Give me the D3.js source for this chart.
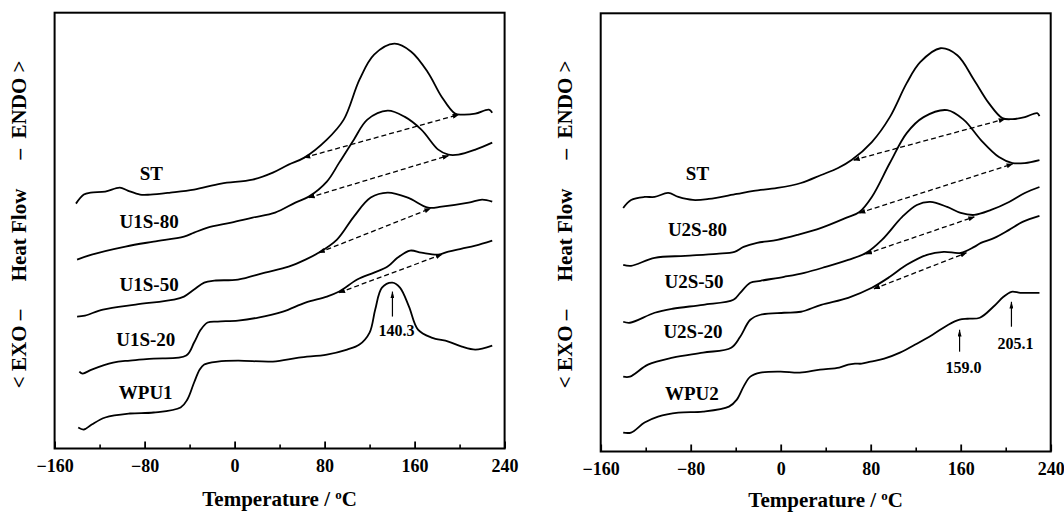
<!DOCTYPE html>
<html>
<head>
<meta charset="utf-8">
<script src="https://cdn.jsdelivr.net/npm/d3@7"></script>
<style>
  html, body { margin: 0; padding: 0; background: #fff; }
  svg { display: block; }
  text { font-family: "Liberation Serif", "Times New Roman", serif; font-weight: bold; fill: #000; }
</style>
</head>
<body>
<svg id="chart" width="1064" height="513"></svg>
<script>
// Temperature axis
const xDomain = [-160, 240];
const xMajorTicks = [-160, -80, 0, 80, 160, 240];
const xMinorTicks = [-120, -40, 40, 120, 200];

// Heat flow (arbitrary units) range of each panel
const leftYDomain = [0, 43.6];
const rightYDomain = [0, 43.9];

// DSC traces, [temperature °C, heat flow a.u.] — left panel (U1S series)
const stLeft = [[-141,24.5],[-134,25.4],[-128,25.6],[-115,25.7],[-102,26.1],[-95,25.8],[-84,25.4],[-75,25.4],[-57,25.6],[-36,25.9],[-12,26.5],[16,26.9],[34,27.6],[48,28.4],[62,29.1],[82,30.9],[97,32.9],[111,36.9],[124,39.4],[142,40.5],[157,39.7],[172,37.6],[184,35.2],[196,33.5],[203,33.4],[214,33.5],[226,33.9],[229,33.6]];
const u1s80 = [[-140,18.9],[-127,19.4],[-97,20.2],[-72,20.7],[-45,21.2],[-36,21.6],[-24,22.1],[-3,22.6],[16,23.1],[36,23.6],[54,24.6],[66,25.2],[82,26.7],[93,28.6],[106,30.9],[118,32.9],[136,33.8],[151,33.2],[166,31.9],[181,29.9],[190,29.4],[199,29.4],[214,29.9],[229,30.6]];
const u1s50 = [[-140,13.2],[-133,13.3],[-117,13.9],[-88,14.4],[-54,14.9],[-45,15.2],[-36,15.9],[-27,16.6],[-18,16.8],[3,16.9],[27,17.6],[48,18.2],[63,18.9],[75,19.6],[91,20.9],[106,23.2],[121,25.1],[136,25.6],[154,25.1],[172,24.1],[184,24.2],[208,24.6],[220,24.9],[229,24.7]];
const u1s20 = [[-138,7.7],[-135,7.5],[-127,7.9],[-108,8.6],[-93,8.8],[-72,9.0],[-43,9.3],[-36,10.6],[-30,11.9],[-24,12.6],[-15,12.7],[3,12.8],[21,13.1],[43,13.7],[63,14.6],[82,15.2],[93,15.7],[109,16.9],[124,17.6],[136,18.2],[145,19.1],[156,19.8],[166,19.6],[181,19.4],[190,19.7],[202,20.0],[214,20.3],[229,20.8]];
const wpu1 = [[-139,2.1],[-134,1.9],[-127,2.4],[-115,3.1],[-93,3.5],[-72,3.6],[-48,4.1],[-42,4.9],[-36,6.6],[-31,7.9],[-27,8.4],[-15,8.7],[3,8.8],[34,8.7],[57,9.1],[82,9.4],[100,9.9],[111,10.4],[120,11.6],[125,13.9],[131,16.1],[140.3,16.6],[147,16.1],[155,14.2],[163,11.9],[175,11.1],[190,10.7],[202,10.2],[214,9.9],[229,10.3]];

// Right panel (U2S series)
const stRight = [[-140,24.4],[-133,25.2],[-121,25.5],[-112,25.5],[-100,25.9],[-91,25.5],[-78,25.2],[-64,25.3],[-39,25.8],[-24,26.1],[-3,26.4],[18,26.9],[36,27.7],[51,28.4],[63,29.2],[81,31.0],[97,33.5],[112,36.9],[124,39.0],[142,40.4],[157,39.7],[172,37.2],[185,34.9],[197,33.4],[206,33.3],[217,33.5],[228,33.9],[230,33.6]];
const u2s80 = [[-140,18.7],[-133,18.6],[-112,19.4],[-85,19.6],[-57,19.8],[-41,20.0],[-33,20.5],[-21,20.9],[-3,21.2],[15,21.7],[36,22.4],[58,23.4],[70,24.0],[81,25.5],[97,28.9],[112,31.9],[127,33.5],[148,34.2],[163,33.2],[178,31.2],[194,29.5],[206,28.9],[217,28.9],[230,29.2]];
const u2s50 = [[-140,13.0],[-134,12.9],[-112,13.9],[-96,14.3],[-69,14.7],[-42,15.2],[-36,15.9],[-27,16.9],[-18,17.1],[3,17.5],[21,17.9],[40,18.5],[60,19.2],[76,19.9],[90,21.2],[108,23.5],[121,24.7],[133,25.0],[148,24.5],[160,23.9],[172,23.7],[187,24.2],[203,25.0],[217,25.9],[230,26.5]];
const u2s20 = [[-140,7.5],[-134,7.5],[-118,8.7],[-96,9.4],[-69,9.9],[-44,10.4],[-36,11.5],[-27,13.2],[-18,13.7],[3,13.9],[18,14.0],[36,14.7],[60,15.4],[81,16.4],[97,17.5],[112,18.7],[130,19.7],[145,20.0],[160,19.9],[172,20.5],[178,20.9],[190,21.4],[203,22.2],[215,23.0],[230,23.6]];
const wpu2 = [[-140,1.9],[-133,1.9],[-121,2.9],[-109,3.5],[-91,3.9],[-69,4.0],[-46,4.5],[-39,5.2],[-33,6.5],[-27,7.5],[-18,7.9],[0,8.0],[17,7.9],[35,8.2],[52,8.4],[60,8.7],[66,8.8],[72,8.8],[80,9.0],[92,9.3],[106,9.9],[121,10.8],[135,11.7],[149,12.7],[159,13.2],[166,13.3],[177,13.4],[189,14.5],[198,15.5],[205.1,16.0],[213,15.9],[222,15.9],[230,15.9]];

// Series names and label anchors [temperature, heat flow]
const leftNames = ["ST", "U1S-80", "U1S-50", "U1S-20", "WPU1"];
const leftLabelAt = [[-74,26.9],[-76,22.1],[-76,15.8],[-79,10.3],[-79,5.0]];
const rightNames = ["ST", "U2S-80", "U2S-50", "U2S-20", "WPU2"];
const rightLabelAt = [[-74,27.2],[-74,21.6],[-77,16.4],[-78,11.4],[-79,5.2]];

// Integration baselines [T start, value start, T end, value end]
const leftBaselines = [[62,29.1,199,33.4],[66,25.1,190,29.3],[75,19.6,174,24.0],[93,15.6,184,19.4]];
const rightBaselines = [[65,29.2,199,33.3],[70,23.9,206,28.8],[76,19.8,172,23.5],[83,16.3,165,19.9]];

// Peak annotations [temperature, arrow foot, arrow tip, label baseline]
const leftPeaks = [[140.3,13.2,15.7,11.3]];
const rightPeaks = [[159.0,10.0,12.2,7.9],[205.1,12.5,15.0,10.3]];

const svg = d3.select("#chart");

const defs = svg.append("defs");
defs.append("marker")
  .attr("id", "headSmall").attr("viewBox", "0 0 8 6")
  .attr("refX", 7).attr("refY", 3)
  .attr("markerWidth", 7).attr("markerHeight", 5)
  .attr("markerUnits", "userSpaceOnUse")
  .attr("orient", "auto-start-reverse")
  .append("path").attr("d", "M0,0 L8,3 L0,6 Z").attr("fill", "#000");
defs.append("marker")
  .attr("id", "headUp").attr("viewBox", "0 0 6 10")
  .attr("refX", 3).attr("refY", 0)
  .attr("markerWidth", 4).attr("markerHeight", 7)
  .attr("markerUnits", "userSpaceOnUse")
  .attr("orient", "0")
  .append("path").attr("d", "M0,10 L3,0 L6,10 Z").attr("fill", "#000");

function drawPanel(frame, yDomain, series, names, labelAt, baselines, peaks, yTitleX, titleY) {
  const x = d3.scaleLinear().domain(xDomain).range([frame.x0, frame.x1]);
  const y = d3.scaleLinear().domain(yDomain).range([frame.y1, frame.y0]);
  const g = svg.append("g");

  const line = d3.line()
    .x(d => x(d[0])).y(d => y(d[1]))
    .curve(d3.curveCatmullRom.alpha(0.5));

  g.selectAll("path.trace").data(series).enter().append("path")
    .attr("class", "trace")
    .attr("d", line)
    .attr("fill", "none").attr("stroke", "#000")
    .attr("stroke-width", 1.8).attr("stroke-linejoin", "round");

  g.selectAll("line.base").data(baselines).enter().append("line")
    .attr("class", "base")
    .attr("x1", d => x(d[0])).attr("y1", d => y(d[1]))
    .attr("x2", d => x(d[2])).attr("y2", d => y(d[3]))
    .attr("stroke", "#000").attr("stroke-width", 1.3)
    .attr("stroke-dasharray", "5,3")
    .attr("marker-start", "url(#headSmall)")
    .attr("marker-end", "url(#headSmall)");

  g.selectAll("text.name").data(names).enter().append("text")
    .attr("class", "name")
    .attr("x", (d, i) => x(labelAt[i][0]))
    .attr("y", (d, i) => y(labelAt[i][1]))
    .attr("text-anchor", "middle")
    .style("font-size", "19px")
    .text(d => d);

  peaks.forEach(p => {
    g.append("line")
      .attr("x1", x(p[0])).attr("x2", x(p[0]))
      .attr("y1", y(p[1])).attr("y2", y(p[2]))
      .attr("stroke", "#000").attr("stroke-width", 1.2)
      .attr("marker-end", "url(#headUp)");
    g.append("text")
      .attr("x", x(p[0]) + 4).attr("y", y(p[3]))
      .attr("text-anchor", "middle")
      .style("font-size", "16px")
      .text(p[0].toFixed(1));
  });

  // frame
  g.append("rect")
    .attr("x", frame.x0).attr("y", frame.y0)
    .attr("width", frame.x1 - frame.x0).attr("height", frame.y1 - frame.y0)
    .attr("fill", "none").attr("stroke", "#000").attr("stroke-width", 2);

  // temperature axis: major ticks with labels, minor ticks without
  const axMajor = g.append("g").attr("transform", `translate(0,${frame.y1})`)
    .call(d3.axisBottom(x).tickValues(xMajorTicks).tickSize(-7).tickPadding(11).tickFormat(d3.format("d")));
  axMajor.select(".domain").remove();
  axMajor.selectAll(".tick line").attr("stroke-width", 1.8);
  axMajor.selectAll(".tick text")
    .style("font-family", "'Liberation Serif', 'Times New Roman', serif")
    .style("font-weight", "bold").style("font-size", "18px");

  const axMinor = g.append("g").attr("transform", `translate(0,${frame.y1})`)
    .call(d3.axisBottom(x).tickValues(xMinorTicks).tickSize(-4).tickFormat(""));
  axMinor.select(".domain").remove();
  axMinor.selectAll(".tick line").attr("stroke-width", 1.6);

  // axis titles
  const t = g.append("text")
    .attr("x", (frame.x0 + frame.x1) / 2).attr("y", titleY)
    .attr("text-anchor", "middle").style("font-size", "21px");
  t.append("tspan").text("Temperature / ");
  t.append("tspan").attr("dy", -7).style("font-size", "13px").text("o");
  t.append("tspan").attr("dy", 7).text("C");

  const yParts = [["< EXO \u2013", 349], ["Heat Flow", 235], ["\u2013  ENDO >", 110]];
  yParts.forEach(([s, cy]) => {
    g.append("text")
      .attr("transform", `translate(${yTitleX},${cy}) rotate(-90)`)
      .attr("text-anchor", "middle").attr("dy", "0.35em")
      .attr("xml:space", "preserve")
      .style("font-size", "21px")
      .text(s);
  });
}

drawPanel({x0: 54.6, x1: 504.6, y0: 12.7, y1: 448.5}, leftYDomain,
  [stLeft, u1s80, u1s50, u1s20, wpu1], leftNames, leftLabelAt, leftBaselines, leftPeaks, 19, 506);
drawPanel({x0: 600.7, x1: 1050.7, y0: 13.3, y1: 451.5}, rightYDomain,
  [stRight, u2s80, u2s50, u2s20, wpu2], rightNames, rightLabelAt, rightBaselines, rightPeaks, 564.5, 507);
</script>
</body>
</html>
